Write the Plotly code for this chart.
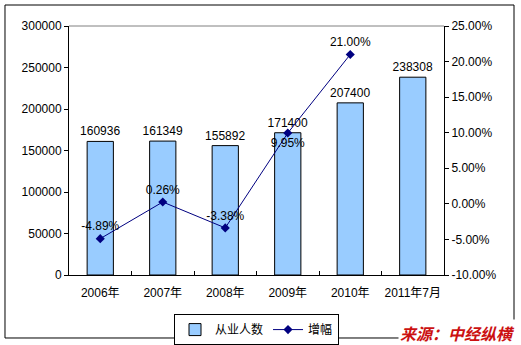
import plotly.graph_objects as go

categories = ["2006年", "2007年", "2008年", "2009年", "2010年", "2011年7月"]
employees = [160936, 161349, 155892, 171400, 207400, 238308]
growth = [-4.89, 0.26, -3.38, 9.95, 21.00, None]
growth_labels = ["-4.89%", "0.26%", "-3.38%", "9.95%", "21.00%", ""]
growth_textpos = ["top center", "top center", "top center", "bottom center", "top center", "top center"]
left_ticks = [0, 50000, 100000, 150000, 200000, 250000, 300000]
right_ticks = [-10, -5, 0, 5, 10, 15, 20, 25]

FONT = "Liberation Sans, Arial, Noto Sans CJK SC, sans-serif"

fig = go.Figure()
fig.add_trace(go.Bar(
    x=categories, y=employees, name="从业人数",
    marker=dict(color="#99CCFF", line=dict(color="black", width=1)),
    width=0.42,
    text=[str(v) for v in employees], textposition="outside",
    constraintext="none",
    textfont=dict(size=12, color="black", family=FONT),
    cliponaxis=False,
))
fig.add_trace(go.Scatter(
    x=categories, y=growth, name="增幅", yaxis="y2",
    mode="lines+markers+text",
    line=dict(color="#000080", width=1),
    marker=dict(symbol="diamond", size=7, color="#000080"),
    text=growth_labels, textposition=growth_textpos,
    textfont=dict(size=12, color="black", family=FONT),
    cliponaxis=False,
))

fig.update_layout(
    width=521, height=345,
    margin=dict(l=69, r=77, t=26, b=70, autoexpand=False),
    paper_bgcolor="white", plot_bgcolor="white",
    font=dict(family=FONT, size=12, color="black"),
    showlegend=True,
    uniformtext=dict(mode=False),
    legend=dict(orientation="h", x=0.5, xanchor="center", y=-0.157, yanchor="top",
                bordercolor="black", borderwidth=1, font=dict(size=12),
                itemwidth=30, tracegroupgap=0),
    xaxis=dict(type="category", showline=True, linecolor="black", linewidth=1,
               ticks="inside", ticklen=4, tickcolor="black", tickson="boundaries",
               tickangle=0, automargin=False, ticklabelstandoff=7,
               showgrid=False, tickfont=dict(size=12)),
    yaxis=dict(range=[0, 300000], tickvals=left_ticks,
               ticktext=[str(v) for v in left_ticks], automargin=False,
               showline=True, linecolor="black",
               linewidth=1, ticks="outside", ticklen=4, tickcolor="black",
               showgrid=False, zeroline=False, tickfont=dict(size=12)),
    yaxis2=dict(range=[-10, 25], tickvals=right_ticks,
                ticktext=[f"{v:.2f}%" for v in right_ticks], automargin=False,
                overlaying="y", side="right", showline=True, linecolor="black",
                linewidth=1, ticks="outside", ticklen=4, tickcolor="black",
                showgrid=False, zeroline=False, tickfont=dict(size=12)),
    shapes=[
        dict(type="line", xref="paper", yref="paper", x0=0, x1=1, y0=1, y1=1,
             line=dict(color="#808080", width=1)),
        dict(type="rect", xref="paper", yref="paper",
             x0=-0.1707, x1=1.1867, y0=-0.253, y1=1.0843,
             line=dict(color="black", width=1), fillcolor="rgba(0,0,0,0)", layer="below"),
    ],
    annotations=[
        dict(text="<b><i>来源：中经纵横</i></b>", xref="paper", yref="paper",
             x=1.035, y=-0.233, xanchor="center", yanchor="middle", showarrow=False,
             font=dict(size=16, color="#CC1111", family="Noto Sans CJK SC, sans-serif"),
             bgcolor="white"),
    ],
)

fig.write_html("out.html")
